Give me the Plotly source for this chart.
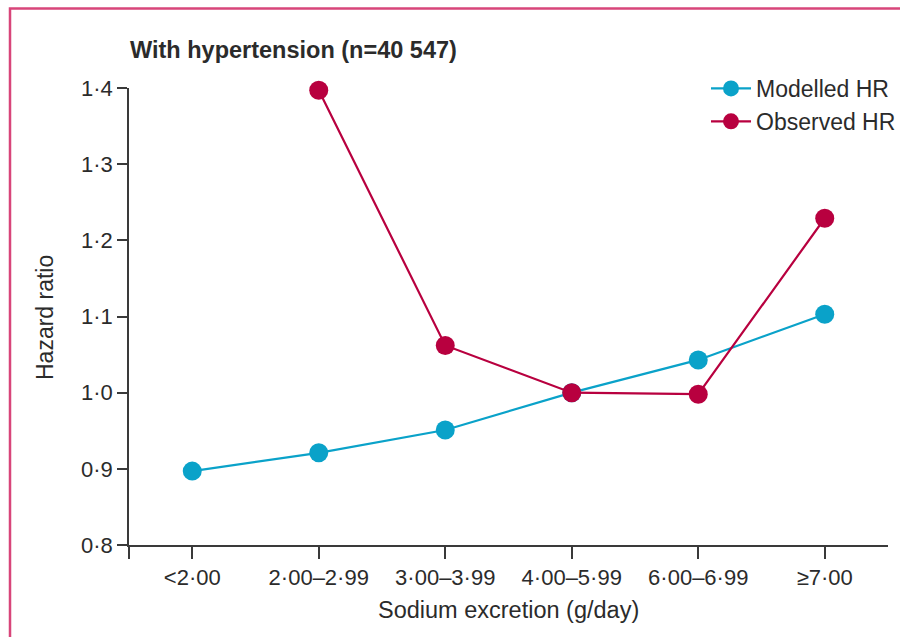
import plotly.graph_objects as go

# Sodium excretion categories and hazard ratios
categories = ["<2·00", "2·00–2·99", "3·00–3·99", "4·00–5·99", "6·00–6·99", "≥7·00"]
modelled_hr = [0.897, 0.921, 0.951, 1.00, 1.043, 1.103]
observed_hr = [None, 1.397, 1.062, 1.00, 0.998, 1.229]
y_ticks = [0.8, 0.9, 1.0, 1.1, 1.2, 1.3, 1.4]
y_tick_text = ["0·8", "0·9", "1·0", "1·1", "1·2", "1·3", "1·4"]

FONT = "Liberation Sans, Arial, sans-serif"
TEAL = "#0aa2c9"
CRIMSON = "#b8003f"
AXIS = "#3a3a3a"
TEXT = "#2b2b2b"

x_idx = list(range(len(categories)))

fig = go.Figure()
fig.add_trace(go.Scatter(
    x=x_idx, y=modelled_hr, mode="lines+markers", name="Modelled HR",
    line=dict(color=TEAL, width=2.2),
    marker=dict(color=TEAL, size=19),
    cliponaxis=False,
))
fig.add_trace(go.Scatter(
    x=x_idx, y=observed_hr, mode="lines+markers", name="Observed HR",
    line=dict(color=CRIMSON, width=2.2),
    marker=dict(color=CRIMSON, size=19),
    cliponaxis=False,
))

# extra blank tick at the left end lets the y-axis line run below the x-axis
fig.update_xaxes(
    range=[-0.5, 5.5],
    tickvals=[-0.5] + x_idx, ticktext=[""] + categories,
    showline=True, linecolor=AXIS, linewidth=1.5,
    ticks="outside", ticklen=12, tickwidth=1.5, tickcolor=AXIS,
    showgrid=False, zeroline=False,
    tickfont=dict(family=FONT, size=22, color=TEXT),
)
fig.update_yaxes(
    range=[0.8, 1.4],
    tickvals=y_ticks, ticktext=y_tick_text,
    showline=True, linecolor=AXIS, linewidth=1.5,
    ticks="outside", ticklen=10, tickwidth=1.5, tickcolor=AXIS,
    showgrid=False, zeroline=False,
    tickfont=dict(family=FONT, size=22, color=TEXT),
)

L, R, T, B = 129, 13, 88, 92
W, H = 901, 637
pw, ph = W - L - R, H - T - B

def px_x(p):
    return (p - L) / pw

def px_y(p):
    return (H - B - p) / ph

fig.add_annotation(
    text="<b>With hypertension (n=40 547)</b>", xref="paper", yref="paper",
    x=px_x(128), y=px_y(50), xanchor="left", yanchor="middle", showarrow=False,
    font=dict(family=FONT, size=23.5, color=TEXT),
)
fig.add_annotation(
    text="Hazard ratio", xref="paper", yref="paper",
    x=px_x(45), y=px_y(318), textangle=-90, xanchor="center", yanchor="middle",
    showarrow=False, font=dict(family=FONT, size=23, color=TEXT),
)
fig.add_annotation(
    text="Sodium excretion (g/day)", xref="paper", yref="paper",
    x=px_x(508), y=px_y(610), xanchor="center", yanchor="middle",
    showarrow=False, font=dict(family=FONT, size=23.5, color=TEXT),
)

# frame along the left and top edges, drawn as one open path
fx, fy_top, fy_bot, fx_end = px_x(10), px_y(8.5), px_y(H), px_x(W - 1)
fig.add_shape(
    type="path", xref="paper", yref="paper",
    path=f"M {fx},{fy_bot} L {fx},{fy_top} L {fx_end},{fy_top}",
    line=dict(color="#d8457a", width=2.5),
)

fig.update_layout(
    width=W, height=H,
    margin=dict(l=L, r=R, t=T, b=B, autoexpand=False),
    paper_bgcolor="white", plot_bgcolor="white",
    legend=dict(
        x=px_x(706), y=px_y(67), xanchor="left", yanchor="top",
        font=dict(family=FONT, size=23, color=TEXT),
        bgcolor="rgba(0,0,0,0)", tracegroupgap=0, itemwidth=40,
    ),
)

fig.write_html("out.html")
